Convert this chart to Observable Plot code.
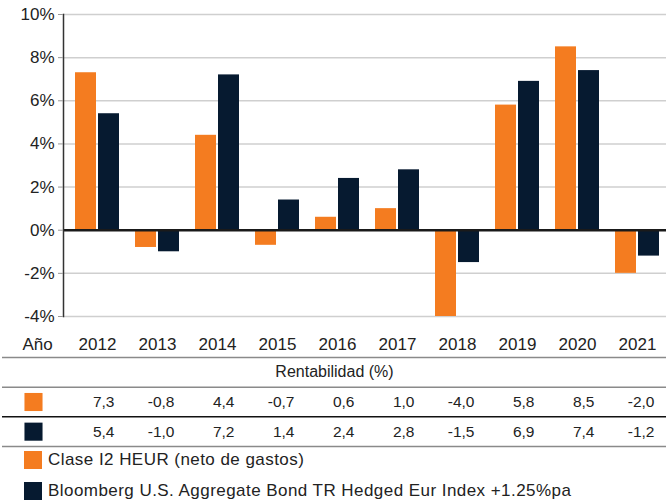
<!DOCTYPE html>
<html>
<head>
<meta charset="utf-8">
<script src="https://cdn.jsdelivr.net/npm/d3@7"></script>
<script src="https://cdn.jsdelivr.net/npm/@observablehq/plot@0.6"></script>
<style>
  html, body { margin: 0; padding: 0; background: #fff; }
  body { font-family: "Liberation Sans", Arial, sans-serif; color: #222; }
  #wrap { position: relative; width: 666px; height: 501px; overflow: hidden; }
  #chart { position: absolute; left: 0; top: 0; }
  #table { position: absolute; left: 0; top: 356px; }
  .leg { position: absolute; left: 24px; display: flex; align-items: center; font-size: 17px; letter-spacing: 0.45px; color: #222; white-space: nowrap; }
  .sw { width: 18px; height: 18px; margin-right: 6px; flex: none; }
</style>
</head>
<body>
<div id="wrap">
  <div id="chart"></div>
  <div id="table"></div>
  <div id="legend"></div>
</div>
<script>
const years = ["2012","2013","2014","2015","2016","2017","2018","2019","2020","2021"];
const claseI2 = [7.3, -0.8, 4.4, -0.7, 0.6, 1.0, -4.0, 5.8, 8.5, -2.0];
const bloomberg = [5.4, -1.0, 7.2, 1.4, 2.4, 2.8, -1.5, 6.9, 7.4, -1.2];
const seriesNames = ["Clase I2 HEUR (neto de gastos)", "Bloomberg U.S. Aggregate Bond TR Hedged Eur Index +1.25%pa"];
const seriesColors = ["#F47C20", "#061A30"];
const yTicks = [-4, -2, 0, 2, 4, 6, 8, 10];
const tableHeader = "Rentabilidad (%)";
const axisLabel = "Año";

const fmt = v => v.toFixed(1).replace(".", ",");
const rowsA = years.map((y, i) => ({year: y, value: claseI2[i]}));
const rowsB = years.map((y, i) => ({year: y, value: bloomberg[i]}));

const xScale = {type: "band", domain: years, paddingInner: 0.273, paddingOuter: 0.149, range: [63, 670]};
const font = "Liberation Sans, Arial, sans-serif";

const chart = Plot.plot({
  width: 666,
  height: 356,
  marginLeft: 63,
  marginRight: 0,
  marginTop: 14,
  marginBottom: 40,
  style: {fontFamily: font, color: "#222", background: "transparent", overflow: "visible"},
  x: xScale,
  y: {domain: [-4, 10]},
  marks: [
    Plot.ruleY(yTicks, {stroke: "#cfcfcf", strokeWidth: 1.5}),
    Plot.barY(rowsA, {x: "year", y: "value", fill: seriesColors[0], insetLeft: 0, insetRight: 23}),
    Plot.barY(rowsB, {x: "year", y: "value", fill: seriesColors[1], insetLeft: 23, insetRight: 0}),
    Plot.ruleY([0], {stroke: "#1a1a1a", strokeWidth: 2.5}),
    Plot.frame({anchor: "left", stroke: "#333", strokeWidth: 1.5}),
    Plot.axisY({ticks: yTicks, tickFormat: d => d + "%", tickSize: 5, tickPadding: 4, fontSize: 17, stroke: "#999", label: null}),
    Plot.axisX({tickSize: 0, tickPadding: 21, fontSize: 17, label: null}),
    Plot.text([axisLabel], {frameAnchor: "bottom-left", text: d => d, textAnchor: "start", lineAnchor: "top", dx: -41, dy: 21, fontSize: 17})
  ]
});
document.getElementById("chart").appendChild(chart);

const rowEdges = [-0.5, 0.5, 1.5, 2.5];
const edgeColors = ["#8a8a8a", "#8a8a8a", "#111", "#8a8a8a"];
const table = Plot.plot({
  width: 666,
  height: 92,
  marginLeft: 2,
  marginRight: 0,
  marginTop: 0,
  marginBottom: 0,
  style: {fontFamily: font, color: "#222", background: "transparent", overflow: "visible"},
  x: {...xScale, axis: null},
  y: {domain: [2.5, -0.5], range: [90, 1], axis: null},
  marks: [
    Plot.ruleY(rowEdges, {y: d => d, stroke: (d, i) => edgeColors[i], strokeWidth: 1.5}),
    Plot.text([tableHeader], {y: () => 0, frameAnchor: "middle", text: d => d, fontSize: 16, fill: "#222"}),
    Plot.dot([0, 1], {y: d => d + 1, frameAnchor: "left", dx: 31, symbol: "square", r: 10.2, fill: (d) => seriesColors[d], stroke: "none"}),
    Plot.text(rowsA, {x: "year", y: () => 1, text: d => fmt(d.value), textAnchor: "end", dx: 17, fontSize: 15.5, fill: "#222"}),
    Plot.text(rowsB, {x: "year", y: () => 2, text: d => fmt(d.value), textAnchor: "end", dx: 17, fontSize: 15.5, fill: "#222"})
  ]
});
document.getElementById("table").appendChild(table);

const legend = document.getElementById("legend");
seriesNames.forEach((name, i) => {
  const row = document.createElement("div");
  row.className = "leg";
  row.style.top = (448 + i * 31) + "px";
  row.style.height = "24px";
  const sw = document.createElement("span");
  sw.className = "sw";
  sw.style.background = seriesColors[i];
  const t = document.createElement("span");
  t.textContent = name;
  row.appendChild(sw);
  row.appendChild(t);
  legend.appendChild(row);
});
</script>
</body>
</html>
